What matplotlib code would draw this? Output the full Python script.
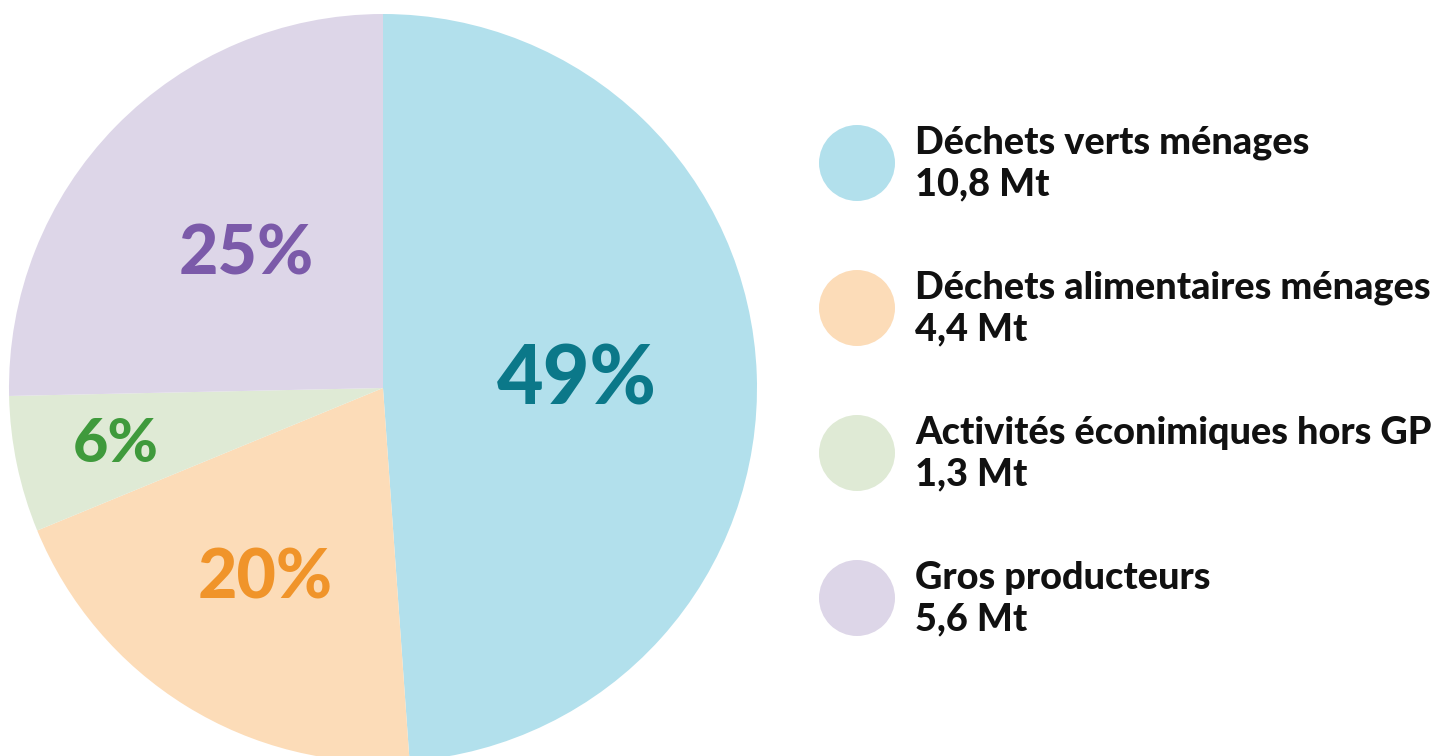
import numpy as np
import matplotlib.pyplot as plt
from matplotlib.patches import Circle

# données
categories = ["Déchets verts ménages", "Déchets alimentaires ménages",
              "Activités éconimiques hors GP", "Gros producteurs"]
tonnages = [10.8, 4.4, 1.3, 5.6]
tonnage_labels = ["10,8 Mt", "4,4 Mt", "1,3 Mt", "5,6 Mt"]
pourcentages = [49, 20, 6, 25]

couleurs = ["#b2e0ec", "#fcdcb8", "#dfead5", "#ddd6e8"]
couleurs_txt = ["#0b7889", "#f0942a", "#3f9a3c", "#7b5aa9"]
tailles_txt = [58, 49, 44, 49]
dist_txt = [0.52, 0.60, 0.73, 0.51]

plt.rcParams['font.family'] = ['Lato', 'DejaVu Sans']

W, H = 1437, 756
fig = plt.figure(figsize=(W / 100, H / 100), dpi=100)
ax = fig.add_axes([0, 0, 1, 1])

cx, cy, r = 383, H - 388, 374
wedges, _ = ax.pie(tonnages, colors=couleurs, startangle=90, counterclock=False,
                   center=(cx, cy), radius=r, frame=True,
                   wedgeprops=dict(linewidth=0))
ax.set_xlim(0, W)
ax.set_ylim(0, H)
ax.set_aspect('equal')
ax.axis('off')

for w, p, c, s, d in zip(wedges, pourcentages, couleurs_txt, tailles_txt, dist_txt):
    a = np.deg2rad((w.theta1 + w.theta2) / 2)
    ax.text(cx + d * r * np.cos(a), cy + d * r * np.sin(a), f"{p}%",
            color=c, fontsize=s, fontweight='black', ha='center', va='center')

# légende
for i, (cat, t, c) in enumerate(zip(categories, tonnage_labels, couleurs)):
    y = H - (163 + 145 * i)
    ax.add_patch(Circle((857, y), 38, color=c, lw=0))
    ax.text(915, y + 20, cat, fontsize=27.3, fontweight='black', color='#111111',
            ha='left', va='center')
    ax.text(915, y - 21, t, fontsize=27.3, fontweight='black', color='#111111',
            ha='left', va='center')

fig.savefig("out.png", dpi=100)
